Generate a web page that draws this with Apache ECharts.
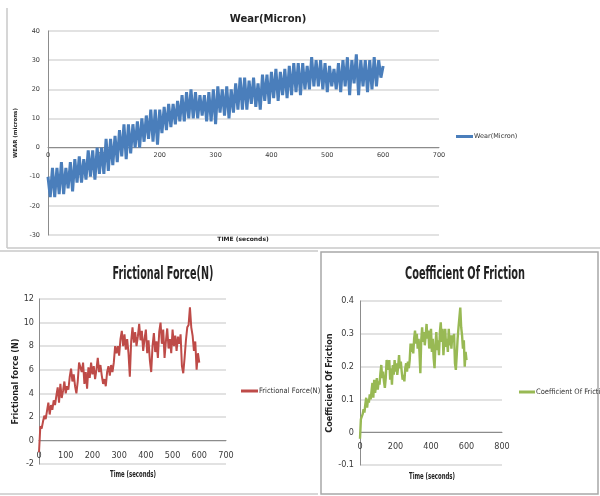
<!DOCTYPE html>
<html>
<head>
<meta charset="utf-8">
<script src="https://cdn.jsdelivr.net/npm/echarts@6/dist/echarts.min.js"></script>
<style>html,body{margin:0;padding:0;background:#fff}#c{width:600px;height:496px}</style>
</head>
<body>
<div id="c"></div>
<script>
// ---- data ----
const wearStep = 4; // seconds between wear samples
const wearValues = [-10,-17,-7,-17,-7,-16,-5,-16,-7,-14,-5,-15,-4,-12,-3,-12,-4,-11,-1,-10,
 -1,-11,0,-9,0,-9,3,-8,3,-6,4,-5,6,-3,8,-4,8,-2,8,0,
 9,0,10,2,11,3,13,2,13,1,13,5,14,6,15,7,15,8,16,9,
 18,9,19,10,20,10,19,10,18,11,18,9,19,9,20,8,21,12,20,11,
 21,10,20,12,22,13,24,13,24,13,23,15,24,14,22,13,25,16,25,15,
 26,17,27,16,26,18,27,17,28,18,29,19,29,18,29,20,28,20,31,21,
 30,21,30,20,29,19,28,21,27,20,29,19,30,21,31,18,30,22,32,18,
 30,21,30,19,30,20,31,21,30,24,28];
const forceStep = 5;
const forceValues = [-1,1.2,1.0,1.6,2.1,1.8,2.5,3.2,2.2,3.0,2.6,3.4,3.0,3.8,4.5,3.2,4.8,3.6,4.2,5.0,
 4.0,4.6,4.3,5.4,6.1,5.0,5.6,4.6,4.0,5.0,6.6,6.7,5.8,6.6,4.8,5.8,4.4,6.2,5.3,6.6,
 5.6,6.3,5.2,6.0,7.0,5.8,6.4,5.5,4.8,5.2,4.6,5.8,6.3,5.5,6.4,5.8,6.6,8.0,7.4,8.0,
 7.2,8.6,9.3,8.0,9.0,7.7,8.6,7.4,5.4,8.4,9.6,8.3,9.2,8.0,8.8,9.9,8.5,9.3,7.6,8.6,
 9.4,7.4,8.5,6.8,5.8,8.0,9.1,7.5,8.4,7.0,9.2,10.0,8.2,9.4,7.0,8.4,9.5,7.8,8.6,7.4,
 9.4,8.0,8.9,7.6,8.8,8.2,9.0,6.3,5.7,7.0,8.5,9.6,9.8,11.3,9.6,8.9,7.6,8.4,6.0,7.4,6.6];
const cofStep = 5;
const cofValues = [-0.02,0.04,0.035,0.055,0.07,0.06,0.085,0.105,0.075,0.1,0.09,0.115,0.1,0.125,0.15,0.105,0.16,0.12,0.14,0.165,
 0.13,0.155,0.145,0.18,0.205,0.165,0.185,0.155,0.135,0.165,0.22,0.225,0.19,0.22,0.16,0.195,0.145,0.205,0.175,0.22,
 0.185,0.21,0.175,0.2,0.235,0.195,0.215,0.185,0.16,0.175,0.155,0.195,0.21,0.185,0.215,0.195,0.22,0.27,0.245,0.27,
 0.24,0.285,0.31,0.27,0.3,0.255,0.285,0.245,0.18,0.28,0.32,0.275,0.305,0.265,0.295,0.33,0.285,0.31,0.255,0.285,
 0.315,0.245,0.285,0.225,0.195,0.265,0.305,0.25,0.28,0.235,0.305,0.335,0.275,0.315,0.235,0.28,0.315,0.26,0.285,0.245,
 0.315,0.265,0.295,0.255,0.295,0.275,0.3,0.21,0.19,0.235,0.285,0.32,0.325,0.38,0.32,0.295,0.255,0.28,0.2,0.245,0.22];

const wearTicks = {min:-30, max:40, interval:10};
const forceTicks = {min:-2, max:12, interval:2};
const cofTicks = {min:-0.1, max:0.4, interval:0.1};

function pairs(step, vals){ return vals.map((v,i)=>[i*step, v]); }

// ---- chart ----
const narrow = '"Liberation Sans Narrow","DejaVu Sans Condensed",sans-serif';
const gridCol = '#d9d9d9', axCol = '#8c8c8c', lblCol = '#3a3a3a';
const grids = [
  {left:48, top:31, width:391, height:204},
  {left:39, top:299, width:187, height:165},
  {left:360, top:301, width:142, height:164}
];
// x axis sits on the y=0 line: shift it up from the grid bottom by the scale position of 0
function zeroOffset(g, t){ return -g.height * (0 - t.min) / (t.max - t.min); }

function xAx(gi, t, max, interval, font, size, margin){
  return {gridIndex:gi, type:'value', min:0, max:max, interval:interval, position:'bottom',
    offset:zeroOffset(grids[gi], t),
    axisLine:{show:true, onZero:false, lineStyle:{color:axCol, width:1}},
    axisTick:{show:false}, splitLine:{show:false},
    axisLabel:{fontSize:size, fontFamily:font, color:lblCol, margin:margin}};
}
function yAx(gi, t, name, font, size, nameSize, gap, margin){
  return {gridIndex:gi, type:'value', min:t.min, max:t.max, interval:t.interval,
    name:name, nameLocation:'middle', nameGap:gap,
    nameTextStyle:{fontSize:nameSize, fontFamily:font, fontWeight:'bold', color:'#222'},
    axisLine:{show:true, onZero:false, lineStyle:{color:axCol, width:1}},
    axisTick:{show:false},
    splitLine:{show:true, lineStyle:{color:gridCol, width:1.5}},
    axisLabel:{fontSize:size, fontFamily:font, color:lblCol, margin:margin,
      formatter:v=>String(Math.round(v*1000)/1000)}};
}
function label(x, y, text, font, sx){
  return {type:'text', x:x, y:y, scaleX:sx, silent:true,
    style:{text:text, font:font, fill:'#222', align:'center', verticalAlign:'middle', textAlign:'center', textVerticalAlign:'middle'}};
}

const chart = echarts.init(document.getElementById('c'), null, {renderer:'canvas'});
chart.setOption({
  backgroundColor:'#fff',
  animation:false,
  grid:grids,
  xAxis:[
    xAx(0, wearTicks, 700, 100, 'DejaVu Sans', 6.5, 4),
    xAx(1, forceTicks, 700, 100, narrow, 9, 11),
    xAx(2, cofTicks, 800, 200, narrow, 9, 10)
  ],
  yAxis:[
    yAx(0, wearTicks, 'WEAR (microns)', 'DejaVu Sans', 6.5, 5.5, 20, 8),
    yAx(1, forceTicks, 'Frictional force (N)', narrow, 9, 9, 14, 5),
    yAx(2, cofTicks, 'Coefficient Of Friction', narrow, 9, 9, 18, 6)
  ],
  legend:[
    {data:['Wear(Micron)'], left:456, top:133, padding:0, icon:'rect', itemWidth:17, itemHeight:3, itemGap:0,
     textStyle:{fontSize:6.5, fontFamily:'DejaVu Sans', color:'#333', padding:[0,0,0,-4]}},
    {data:['Frictional Force(N)'], left:241, top:387, padding:0, icon:'rect', itemWidth:17, itemHeight:3, itemGap:0,
     textStyle:{fontSize:7.5, fontFamily:narrow, color:'#333', padding:[0,0,0,-4]}},
    {data:['Coefficient Of Friction'], left:519, top:388, padding:0, icon:'rect', itemWidth:16, itemHeight:3, itemGap:0,
     textStyle:{fontSize:7.5, fontFamily:narrow, color:'#333', padding:[0,0,0,-4]}}
  ],
  series:[
    {name:'Wear(Micron)', type:'line', xAxisIndex:0, yAxisIndex:0, showSymbol:false, symbol:'none',
     data:pairs(wearStep, wearValues), color:'#4a7ebb', lineStyle:{width:3, color:'#4a7ebb'}},
    {name:'Frictional Force(N)', type:'line', xAxisIndex:1, yAxisIndex:1, showSymbol:false, symbol:'none',
     data:pairs(forceStep, forceValues), color:'#be4b48', lineStyle:{width:2, color:'#be4b48'}},
    {name:'Coefficient Of Friction', type:'line', xAxisIndex:2, yAxisIndex:2, showSymbol:false, symbol:'none',
     data:pairs(cofStep, cofValues), color:'#98b954', lineStyle:{width:2.4, color:'#98b954'}}
  ],
  graphic:[
    {type:'line', shape:{x1:7, y1:8, x2:7, y2:248}, style:{stroke:'#c8c8c8', lineWidth:1.5}, silent:true},
    {type:'line', shape:{x1:7, y1:248, x2:600, y2:248}, style:{stroke:'#c8c8c8', lineWidth:1.5}, silent:true},
    {type:'line', shape:{x1:0, y1:251, x2:318, y2:251}, style:{stroke:'#c8c8c8', lineWidth:1.5}, silent:true},
    {type:'line', shape:{x1:0, y1:494, x2:318, y2:494}, style:{stroke:'#c8c8c8', lineWidth:1.5}, silent:true},
    {type:'rect', shape:{x:321, y:252, width:277, height:242}, style:{fill:'none', stroke:'#a8a8a8', lineWidth:1.5}, silent:true},
    label(268, 19, 'Wear(Micron)', 'bold 10px "DejaVu Sans"', 1),
    label(243, 239, 'TIME (seconds)', 'bold 6px "DejaVu Sans"', 1),
    label(163, 275, 'Frictional Force(N)', 'bold 17px ' + narrow, 0.63),
    label(133, 475, 'Time (seconds)', 'bold 9px ' + narrow, 0.66),
    label(465, 275, 'Coefficient Of Friction', 'bold 17px ' + narrow, 0.64),
    label(432, 477, 'Time (seconds)', 'bold 9px ' + narrow, 0.66)
  ]
});
</script>
</body>
</html>
